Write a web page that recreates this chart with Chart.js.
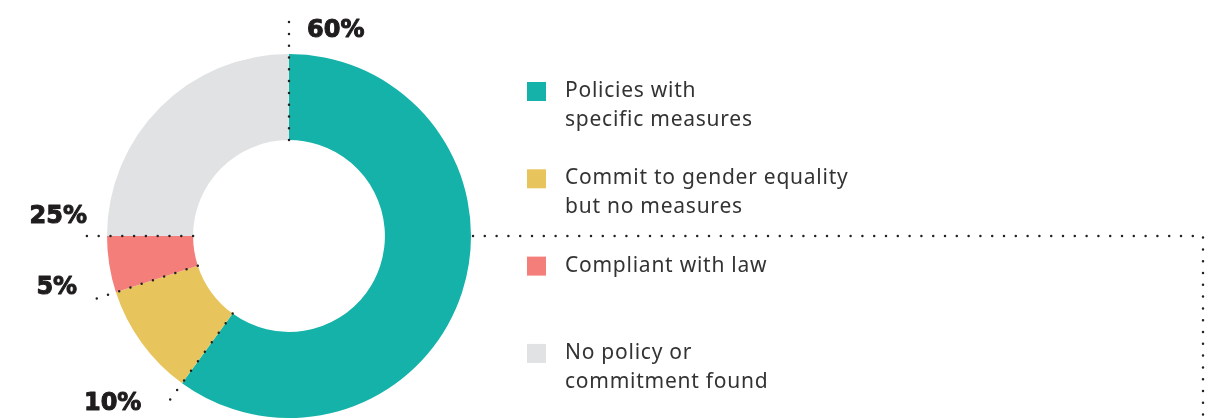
<!DOCTYPE html>
<html>
<head>
<meta charset="utf-8">
<script src="https://cdn.jsdelivr.net/npm/chart.js@4.4.1/dist/chart.umd.min.js"></script>
<style>
  html, body { margin: 0; padding: 0; background: #fff; }
  #wrap { width: 1215px; height: 419px; }
</style>
</head>
<body>
<div id="wrap"><canvas id="policyDonut" width="1215" height="419"></canvas></div>
<script>
// categories and shares (%)
const categories = [
    ['Policies with', 'specific measures'],
    ['Commit to gender equality', 'but no measures'],
    ['Compliant with law'],
    ['No policy or', 'commitment found']
];
const shares = [60, 10, 5, 25];
const sliceColors = ['#14b2a9', '#e8c55c', '#f47f7a', '#e1e2e4'];

const DOT = '#222222';

function dotted(ctx, pts) {
    ctx.save();
    ctx.strokeStyle = DOT;
    ctx.lineWidth = 2.5;
    ctx.lineCap = 'round';
    ctx.setLineDash([0, 11.8]);
    ctx.beginPath();
    ctx.moveTo(pts[0][0], pts[0][1]);
    for (let i = 1; i < pts.length; i++) ctx.lineTo(pts[i][0], pts[i][1]);
    ctx.stroke();
    ctx.restore();
}

// leader lines + percentage labels at the start edge of every slice
const leaderPlugin = {
    id: 'leaders',
    afterDatasetsDraw(chart, args, opts) {
        const ctx = chart.ctx;
        const arcs = chart.getDatasetMeta(0).data;
        const total = shares.reduce((a, b) => a + b, 0);

        arcs.forEach((arc, i) => {
            const a = arc.startAngle;
            const len = opts.lengths[i];
            const x0 = arc.x + Math.cos(a) * arc.innerRadius;
            const y0 = arc.y + Math.sin(a) * arc.innerRadius;
            const x1 = arc.x + Math.cos(a) * len;
            const y1 = arc.y + Math.sin(a) * len;
            dotted(ctx, [[x0, y0], [x1, y1]]);

            const lab = opts.labels[i];
            const txt = Math.round(shares[i] / total * 100) + '%';
            ctx.save();
            ctx.fillStyle = '#1f1d1e';
            ctx.strokeStyle = '#1f1d1e';
            ctx.lineWidth = 1;
            ctx.lineJoin = 'round';
            ctx.font = 'bold 24px "DejaVu Sans"';
            ctx.textAlign = lab.align;
            ctx.textBaseline = 'alphabetic';
            ctx.fillText(txt, x1 + lab.dx, y1 + lab.dy);
            ctx.strokeText(txt, x1 + lab.dx, y1 + lab.dy);
            ctx.restore();
        });

        // long rule going off to the right
        const arc = arcs[0];
        const sx = arc.x + arc.outerRadius;
        dotted(ctx, [[sx + 2, arc.y], [opts.ruleX, arc.y], [opts.ruleX, chart.height + 5]]);
    }
};

// wrapped legend on the right
const legendPlugin = {
    id: 'sideLegend',
    afterDraw(chart, args, opts) {
        const ctx = chart.ctx;
        const ds = chart.data.datasets[0];
        ctx.save();
        ctx.font = '21px "Noto Sans"';
        ctx.letterSpacing = '0.75px';
        ctx.textBaseline = 'middle';
        chart.data.labels.forEach((lines, i) => {
            const top = opts.y + i * opts.step;
            ctx.fillStyle = ds.backgroundColor[i];
            ctx.fillRect(opts.x, top - 9, 19, 19);
            ctx.fillStyle = '#333333';
            lines.forEach((t, j) => ctx.fillText(t, opts.x + 38, top + j * 29));
        });
        ctx.restore();
    }
};

new Chart(document.getElementById('policyDonut').getContext('2d'), {
    type: 'doughnut',
    data: {
        labels: categories,
        datasets: [{
            data: shares,
            backgroundColor: sliceColors,
            borderWidth: 0,
            offset: 0,
            hoverOffset: 0
        }]
    },
    options: {
        responsive: false,
        animation: false,
        cutout: '52.7%',
        layout: { padding: { left: 107, right: 744, top: 54, bottom: 1 } },
        plugins: {
            legend: { display: false },
            tooltip: { enabled: false },
            leaders: {
                lengths: [222, 212, 207, 209],
                ruleX: 1203,
                labels: [
                    { align: 'left', dx: 18, dy: 23 },
                    { align: 'right', dx: -23, dy: 2 },
                    { align: 'right', dx: -15, dy: -6 },
                    { align: 'right', dx: 7, dy: -13 }
                ]
            },
            sideLegend: { x: 527, y: 91, step: 87.3 }
        }
    },
    plugins: [leaderPlugin, legendPlugin]
});
</script>
</body>
</html>
